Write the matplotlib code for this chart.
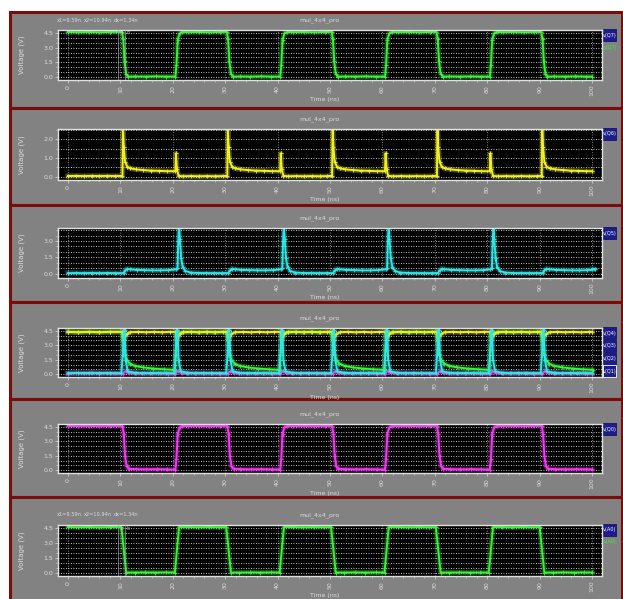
import numpy as np
import matplotlib.pyplot as plt
from matplotlib.patches import Rectangle
from matplotlib.ticker import MultipleLocator

W, H = 623, 599

# --- data (time in ns, voltage in V) ---
x_ticks = [0, 10, 20, 30, 40, 50, 60, 70, 80, 90, 100]

# v(Q7): square wave
q7_fall = [10.3, 30.3, 50.3, 70.3, 90.3]
q7_rise = [20.5, 40.5, 60.5, 80.5]
sq_fall_t = [0, 0.25, 0.5, 0.8, 1.2, 2.5, 4.5, 6.5, 8.5]
sq_fall_v = [4.6, 3.9, 1.6, 0.35, 0.05, 0.06, 0.05, 0.07, 0.05]
sq_rise_t = [0, 0.2, 0.45, 0.8, 1.3, 2.5, 4.5, 6.5, 8.5]
sq_rise_v = [0.05, 1.2, 3.8, 4.45, 4.6, 4.58, 4.6, 4.57, 4.6]
sq_start_t = [0, 2, 4, 6, 8]
sq_start_v = [4.6, 4.58, 4.6, 4.57, 4.6]

# v(Q6): big spike / small spike
q6_big = [10.4, 30.4, 50.4, 70.4, 90.4]
q6_small = [20.5, 40.5, 60.5, 80.5]
q6_big_t = [0, 0.1, 0.25, 0.5, 0.9, 1.5, 2.5, 4, 5.5, 7, 8.5]
q6_big_v = [0.05, 2.7, 1.6, 0.8, 0.55, 0.45, 0.4, 0.36, 0.33, 0.32, 0.3]
q6_small_t = [0, 0.1, 0.3, 0.6, 1.5, 3, 4.5, 6, 7.5, 9]
q6_small_v = [0.3, 1.25, 0.4, 0.05, 0.03, 0.04, 0.03, 0.04, 0.03, 0.04]
q6_start_t = [0, 1.5, 3, 4.5, 6, 7.5, 9]
q6_start_v = [0.04, 0.05, 0.04, 0.05, 0.04, 0.05, 0.04]

# v(Q5): small bump / tall spike
q5_bump = [10.6, 30.6, 50.6, 70.6, 90.6]
q5_spike = [20.9, 40.9, 60.9, 80.9]
q5_bump_t = [0, 0.3, 0.7, 1.2, 2.5, 4, 5.5, 7, 8.5, 10.0]
q5_bump_v = [0.05, 0.3, 0.45, 0.4, 0.35, 0.32, 0.3, 0.3, 0.32, 0.4]
q5_spike_t = [0, 0.15, 0.3, 0.45, 0.7, 1.0, 1.5, 2.5, 4, 5.5, 7, 8.5]
q5_spike_v = [0.5, 3.0, 4.4, 3.2, 1.4, 0.6, 0.25, 0.1, 0.06, 0.05, 0.05, 0.05]
q5_start_t = [0, 1.5, 3, 4.5, 6, 7.5, 9]
q5_start_v = [0.05, 0.06, 0.05, 0.06, 0.05, 0.06, 0.05]

# v(Q4) .. v(Q1)
q4_edges = [10.4, 20.5, 30.4, 40.5, 50.4, 60.5, 70.4, 80.5, 90.4]
q4_t = [0, 0.3, 0.8, 1.5, 3, 4.5, 6, 7.5, 9]
q4_v = [4.4, 3.6, 4.2, 4.35, 4.4, 4.35, 4.4, 4.35, 4.4]
q4_start_t = [0, 2, 4, 6, 8]
q4_start_v = [4.4, 4.35, 4.4, 4.35, 4.4]

q3_fall = [10.3, 30.3, 50.3, 70.3, 90.3]
q3_rise = [20.4, 40.4, 60.4, 80.4]
q3_fall_t = [0, 0.2, 0.5, 0.9, 1.5, 2.5, 4, 6, 8, 9.8]
q3_fall_v = [4.4, 3.4, 2.1, 1.5, 1.1, 0.85, 0.7, 0.58, 0.5, 0.45]
q3_rise_t = [0, 0.2, 0.4, 0.8, 1.5, 3, 4.5, 6, 7.5, 9.5]
q3_rise_v = [0.45, 2.5, 3.9, 4.3, 4.4, 4.4, 4.38, 4.4, 4.38, 4.4]
q3_start_t = [0, 2, 4, 6, 8]
q3_start_v = [4.4, 4.38, 4.4, 4.38, 4.4]

q2_edges = [10.2, 20.3, 30.2, 40.3, 50.2, 60.3, 70.2, 80.3, 90.2]
q2_t = [0, 0.25, 0.45, 0.6, 0.8, 1.2, 2.5, 4, 5.5, 7, 8.5]
q2_v = [0.1, 2.0, 4.6, 4.6, 1.5, 0.3, 0.15, 0.1, 0.12, 0.1, 0.1]
q2_start_t = [0, 2, 4, 6, 8]
q2_start_v = [0.1, 0.12, 0.1, 0.12, 0.1]

q1_edges = [10.5, 20.5, 30.5, 40.5, 50.5, 60.5, 70.5, 80.5, 90.5]
q1_t = [0, 0.5, 1.2, 2.5, 4, 5.5, 7, 8.5]
q1_v = [0.05, 0.3, 0.12, 0.08, 0.1, 0.07, 0.1, 0.06]
q1_start_t = [0, 1.5, 3, 4.5, 6, 7.5, 9]
q1_start_v = [0.06, 0.12, 0.07, 0.15, 0.06, 0.12, 0.07]

# v(Q0): square wave
q0_fall = [10.4, 30.4, 50.4, 70.4, 90.4]
q0_rise = [20.5, 40.5, 60.5, 80.5]
q0_fall_t = [0, 0.25, 0.5, 0.8, 1.2, 2.5, 4.5, 6.5, 8.5]
q0_fall_v = [4.6, 3.8, 1.5, 0.4, 0.15, 0.1, 0.08, 0.1, 0.08]

# v(A0): input with linear edges
a0_fall = [10.2, 30.2, 50.2, 70.2, 90.0]
a0_rise = [20.4, 40.4, 60.4, 80.3]
a0_fall_t = [0, 0.9, 2.5, 4.5, 6.5, 8.5]
a0_fall_v = [4.6, 0.05, 0.05, 0.06, 0.05, 0.06]
a0_rise_t = [0, 0.8, 2.5, 4.5, 6.5, 8.5]
a0_rise_v = [0.05, 4.6, 4.6, 4.58, 4.6, 4.58]

cursor_x = [9.59, 10.94]

GREEN = '#3cf03c'
YELLOW = '#f0f020'
CYAN = '#30e6e6'
MAGENTA = '#f23cf2'


def build(start_t, start_v, events):
    t = list(start_t)
    v = list(start_v)
    for t0, st, sv in sorted(events, key=lambda e: e[0]):
        t += [t0 + d for d in st]
        v += list(sv)
    t.append(100)
    v.append(v[-1])
    return t, v


def trace(ax, t, v, color):
    ax.plot(t, v, color=color, lw=3.8, alpha=0.3, solid_joinstyle='round')
    ax.plot(t, v, color=color, lw=1.4, marker='+', ms=2.8, mew=0.6)


fig = plt.figure(figsize=(W / 100, H / 100), dpi=100)
fig.patch.set_facecolor('white')

# background layer in pixel coords
bg = fig.add_axes([0, 0, 1, 1], zorder=-1)
bg.set_xlim(0, W)
bg.set_ylim(H, 0)
bg.axis('off')

panel_tops = [12, 108, 205, 302, 399, 497]
panel_bots = [108, 205, 302, 399, 497, 602]
plot_y0 = [30, 129, 228, 328, 424, 525]
plot_y1 = [80, 180, 278, 377, 473, 576]
ylims = [(-0.3, 4.8), (-0.17, 2.55), (-0.4, 4.2), (-0.3, 4.8), (-0.3, 4.8), (-0.3, 4.8)]
ymajor = [1.5, 1.0, 1.5, 1.5, 1.5, 1.5]
legends = [['v(Q7)'], ['v(Q6)'], ['v(Q5)'], ['v(Q4)', 'v(Q3)', 'v(Q2)', 'v(Q1)'], ['v(Q0)'], ['v(A0)']]

for top, bot in zip(panel_tops, panel_bots):
    bg.add_patch(Rectangle((10, top), 612, bot - top, facecolor='#828282',
                           edgecolor='#7a0c0c', lw=2.2))

txt = '#dcdcdc'
axes = []
for i in range(6):
    y0, y1 = plot_y0[i], plot_y1[i]
    ax = fig.add_axes([58 / W, 1 - y1 / H, (602 - 58) / W, (y1 - y0) / H])
    ax.set_facecolor('black')
    ax.set_xlim(-1.9, 101.9)
    ax.set_ylim(*ylims[i])
    ax.set_xticks(x_ticks)
    ax.set_xticklabels([str(x) for x in x_ticks], rotation=90)
    ax.xaxis.set_minor_locator(MultipleLocator(2))
    ax.yaxis.set_major_locator(MultipleLocator(ymajor[i]))
    ax.yaxis.set_minor_locator(MultipleLocator(0.5))
    ax.yaxis.set_major_formatter(lambda v, p: f'{v:.1f}')
    ax.tick_params(colors=txt, labelsize=4.5, length=2, width=0.5, pad=1.5)
    ax.tick_params(which='minor', colors=txt, length=1.2, width=0.4)
    for s in ax.spines.values():
        s.set_color('#e0e0e0')
        s.set_linewidth(1.0)
    ax.grid(True, axis='y', which='both', color='white', lw=0.6, ls=(0, (1, 2)))
    ax.grid(True, axis='x', which='major', color='#a0a0a0', lw=0.6, ls=(0, (1, 2)))
    axes.append(ax)

    bg.text(320, y0 - 10, 'mul_4x4_pro', color=txt, fontsize=4.5, ha='center', va='center')
    bg.text(325, y1 + 20, 'Time (ns)', color=txt, fontsize=4.5, ha='center', va='center')
    bg.text(22, (y0 + y1) / 2, 'Voltage (V)', color=txt, fontsize=5, rotation=90,
            ha='center', va='center')

    # legend boxes
    n = len(legends[i])
    for k, name in enumerate(legends[i]):
        by = y0 - 1 + k * 12.8
        ec = 'white' if (n > 1 and k == n - 1) else '#14146e'
        bg.add_patch(Rectangle((603, by), 13, 12, facecolor='#1c1c8c', edgecolor=ec, lw=0.6))
        bg.text(609.5, by + 6, name, color='white', fontsize=3.6, ha='center', va='center')

# panel 1: v(Q7)
t, v = build(sq_start_t, sq_start_v,
             [(e, sq_fall_t, sq_fall_v) for e in q7_fall] + [(e, sq_rise_t, sq_rise_v) for e in q7_rise])
trace(axes[0], t, v, GREEN)

# panel 2: v(Q6)
t, v = build(q6_start_t, q6_start_v,
             [(e, q6_big_t, q6_big_v) for e in q6_big] + [(e, q6_small_t, q6_small_v) for e in q6_small])
trace(axes[1], t, v, YELLOW)

# panel 3: v(Q5)
t, v = build(q5_start_t, q5_start_v,
             [(e, q5_bump_t, q5_bump_v) for e in q5_bump] + [(e, q5_spike_t, q5_spike_v) for e in q5_spike])
trace(axes[2], t, v, CYAN)

# panel 4: v(Q4)..v(Q1)
t, v = build(q1_start_t, q1_start_v, [(e, q1_t, q1_v) for e in q1_edges])
trace(axes[3], t, v, MAGENTA)
t, v = build(q3_start_t, q3_start_v,
             [(e, q3_fall_t, q3_fall_v) for e in q3_fall] + [(e, q3_rise_t, q3_rise_v) for e in q3_rise])
trace(axes[3], t, v, GREEN)
t, v = build(q4_start_t, q4_start_v, [(e, q4_t, q4_v) for e in q4_edges])
trace(axes[3], t, v, YELLOW)
t, v = build(q2_start_t, q2_start_v, [(e, q2_t, q2_v) for e in q2_edges])
trace(axes[3], t, v, CYAN)

# panel 5: v(Q0)
t, v = build(sq_start_t, sq_start_v,
             [(e, q0_fall_t, q0_fall_v) for e in q0_fall] + [(e, sq_rise_t, sq_rise_v) for e in q0_rise])
trace(axes[4], t, v, MAGENTA)

# panel 6: v(A0)
t, v = build(sq_start_t, sq_start_v,
             [(e, a0_fall_t, a0_fall_v) for e in a0_fall] + [(e, a0_rise_t, a0_rise_v) for e in a0_rise])
trace(axes[5], t, v, GREEN)

# cursors on first and last panel
for i in (0, 5):
    for cx, lab in zip(cursor_x, ['a', 'b']):
        axes[i].axvline(cx, color='#9aa8a8', lw=0.6, alpha=0.8, zorder=5)
        axes[i].text(cx + 0.3, ylims[i][1] - 0.05, lab, color='#f0b0c0', fontsize=3.5,
                     ha='left', va='top', zorder=6)
    y0 = plot_y0[i]
    bg.text(57, y0 - 10, 'x1=9.59n', color=txt, fontsize=3.6, ha='left', va='center')
    bg.text(84, y0 - 10, 'x2=10.94n', color=txt, fontsize=3.6, ha='left', va='center')
    bg.text(114, y0 - 10, 'dx=1.34n', color=txt, fontsize=3.6, ha='left', va='center')
    bg.text(610, y0 + 17, legends[i][0], color=GREEN, fontsize=3.4, ha='center', va='center')

fig.savefig('out.png', dpi=100, facecolor='white')
